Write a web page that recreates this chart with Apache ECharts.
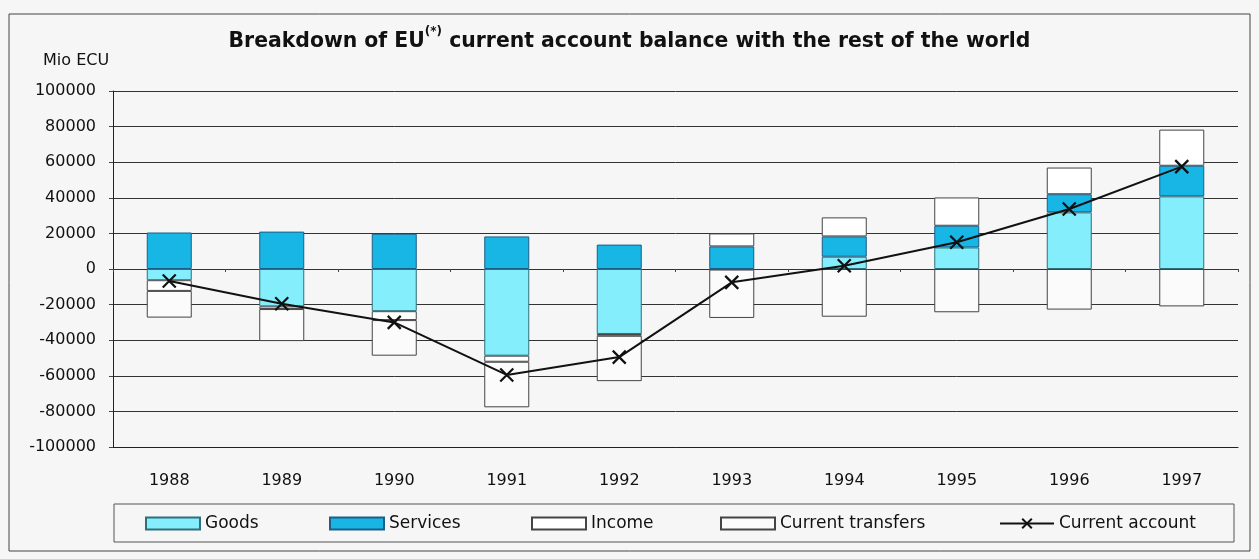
<!DOCTYPE html>
<html>
<head>
<meta charset="utf-8">
<script src="https://cdn.jsdelivr.net/npm/echarts@6/dist/echarts.min.js"></script>
<style>
html,body{margin:0;padding:0;background:#f6f6f6;}
#chart{width:1259px;height:559px;}
</style>
</head>
<body>
<div id="chart"></div>
<script>
const years = ['1988','1989','1990','1991','1992','1993','1994','1995','1996','1997'];
const goods = [-6300, -21000, -23700, -48700, -36500, -300, 6900, 12100, 31800, 40800];
const services = [20500, 21000, 19800, 18300, 13700, 12700, 11400, 12200, 10200, 17200];
const income = [-6000, -1500, -5000, -3400, -1000, 7300, 10700, 15900, 15000, 20300];
const transfers = [-15000, -18000, -20000, -25600, -25500, -27200, -26800, -24300, -22800, -21000];
const currentAccount = [-6700, -19500, -30000, -59500, -49500, -7500, 1800, 15000, 33700, 57500];
const yTicks = { min: -100000, max: 100000, interval: 20000 };

const FONT = 'DejaVu Sans';
const chart = echarts.init(document.getElementById('chart'), null, {renderer: 'canvas'});

const barBase = {
  type: 'bar', stack: 'total', barWidth: 45, xAxisIndex: 0,
};
const xMark = 'path://M0,0 L10,10 M10,0 L0,10';

const legendCommon = {
  top: 510, itemWidth: 54, itemHeight: 12, itemGap: 0,
  textStyle: {fontFamily: FONT, fontSize: 17, color: '#111'},
  selectedMode: false
};

chart.setOption({
  backgroundColor: '#f6f6f6',
  animation: false,
  title: {
    text: '{a|Breakdown of EU}{s|(*)}{a| current account balance with the rest of the world}',
    left: 'center', top: 21,
    textStyle: {
      rich: {
        a: {fontFamily: FONT, fontWeight: 'bold', fontSize: 20.4, color: '#111', lineHeight: 26, verticalAlign: 'bottom'},
        s: {fontFamily: FONT, fontWeight: 'bold', fontSize: 12, color: '#111', lineHeight: 26, verticalAlign: 'top', padding: [0,0,12,0]}
      }
    }
  },
  grid: {left: 113, right: 21, top: 91, bottom: 112, containLabel: false},
  legend: [
    Object.assign({}, legendCommon, {left: 140, data: [{name: 'Goods', icon: 'rect'}]}),
    Object.assign({}, legendCommon, {left: 324, data: [{name: 'Services', icon: 'rect'}]}),
    Object.assign({}, legendCommon, {left: 526, data: [{name: 'Income', icon: 'rect'}]}),
    Object.assign({}, legendCommon, {left: 715, data: [{name: 'Current transfers', icon: 'rect'}]}),
    Object.assign({}, legendCommon, {left: 994, data: ['Current account']})
  ],
  graphic: [
    {type: 'rect', z: -1, shape: {x: 9, y: 14, width: 1241, height: 537}, style: {fill: 'none', stroke: '#444', lineWidth: 1}},
    {type: 'rect', z: -1, shape: {x: 114, y: 504, width: 1120, height: 38}, style: {fill: 'none', stroke: '#555', lineWidth: 1}},
    {type: 'text', left: 43, top: 53, style: {text: 'Mio ECU', font: '16px "DejaVu Sans"', fill: '#111'}}
  ],
  xAxis: [
    {
      type: 'category', data: years, position: 'bottom',
      axisLine: {show: true, onZero: false, lineStyle: {color: '#222', width: 1}},
      axisTick: {show: false},
      axisLabel: {fontFamily: FONT, fontSize: 16, color: '#111', margin: 26},
      splitLine: {show: false}
    },
    {
      type: 'category', data: years, position: 'bottom',
      axisLine: {show: false, onZero: true},
      axisTick: {show: true, length: 3, lineStyle: {color: '#444'}},
      axisLabel: {show: false},
      splitLine: {show: false}
    }
  ],
  yAxis: {
    type: 'value', min: yTicks.min, max: yTicks.max, interval: yTicks.interval,
    axisLine: {show: true, lineStyle: {color: '#222', width: 1}},
    axisTick: {show: true, length: 4, lineStyle: {color: '#444'}},
    axisLabel: {fontFamily: FONT, fontSize: 16, color: '#111', margin: 17, formatter: function (v) { return String(v); }},
    splitLine: {show: true, lineStyle: {color: '#333', width: 1}}
  },
  series: [
    Object.assign({}, barBase, {name: 'Goods', data: goods, itemStyle: {color: '#84EEFC', borderColor: '#2f6f7a', borderWidth: 1}}),
    Object.assign({}, barBase, {name: 'Services', data: services, itemStyle: {color: '#17B6E5', borderColor: '#1d5d86', borderWidth: 1}}),
    Object.assign({}, barBase, {name: 'Income', data: income, itemStyle: {color: '#ffffff', borderColor: '#444', borderWidth: 1}}),
    Object.assign({}, barBase, {name: 'Current transfers', data: transfers, itemStyle: {color: '#fbfbfb', borderColor: '#444', borderWidth: 1}}),
    {
      name: 'Current account', type: 'line', data: currentAccount, xAxisIndex: 0,
      symbol: xMark, symbolSize: 13, showAllSymbol: true,
      lineStyle: {color: '#111', width: 2},
      itemStyle: {color: 'none', borderColor: '#111', borderWidth: 2.2},
      z: 5
    }
  ]
});
</script>
</body>
</html>
